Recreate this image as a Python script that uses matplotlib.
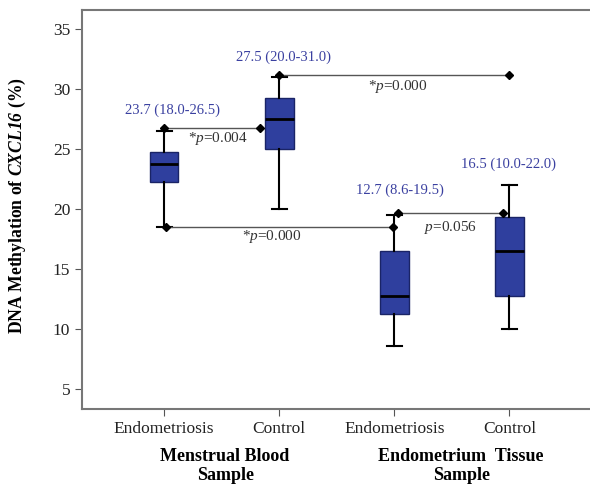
import matplotlib.pyplot as plt

plt.rcParams['font.family'] = ['Liberation Serif', 'DejaVu Serif']
plt.rcParams['mathtext.fontset'] = 'custom'
plt.rcParams['mathtext.rm'] = 'Liberation Serif'
plt.rcParams['mathtext.it'] = 'Liberation Serif:italic'
plt.rcParams['mathtext.bf'] = 'Liberation Serif:bold'
plt.rcParams['mathtext.bfit'] = 'Liberation Serif:italic:bold'

# box statistics
groups = ['Endometriosis', 'Control', 'Endometriosis', 'Control']
medians = [23.75, 27.5, 12.75, 16.5]
q1 = [22.25, 25.0, 11.25, 12.75]
q3 = [24.75, 29.25, 16.5, 19.3]
whislo = [18.5, 20.0, 8.6, 10.0]
whishi = [26.5, 31.0, 19.5, 22.0]
labels = ['23.7 (18.0-26.5)', '27.5 (20.0-31.0)', '12.7 (8.6-19.5)', '16.5 (10.0-22.0)']
label_x = [1.074, 2.035, 3.05, 3.99]
label_y = [28.25, 32.7, 21.6, 23.75]

# pairwise comparisons
comp_x0 = [1.0, 2.0, 1.02, 3.03]
comp_x1 = [1.835, 4.0, 2.99, 3.94]
comp_y = [26.78, 31.2, 18.5, 19.7]
comp_txt = [r'*$p$=0.004', r'*$p$=0.000', r'*$p$=0.000', r'$p$=0.056']
comp_tx = [1.47, 3.03, 1.94, 3.49]
comp_ty = [25.9, 30.25, 17.75, 18.5]

fig = plt.figure(figsize=(5.9, 4.9), dpi=100)
ax = fig.add_axes([0.139, 0.1653, 0.861, 0.8143])

stats = []
for i in range(4):
    stats.append(dict(med=medians[i], q1=q1[i], q3=q3[i],
                      whislo=whislo[i], whishi=whishi[i], fliers=[]))

blue = '#2f3f9e'
ax.bxp(stats, positions=[1, 2, 3, 4], widths=0.25, patch_artist=True,
       showfliers=False, capwidths=0.13,
       boxprops=dict(facecolor=blue, edgecolor='#1a2466', linewidth=1),
       medianprops=dict(color='black', linewidth=2),
       whiskerprops=dict(color='black', linewidth=1.5),
       capprops=dict(color='black', linewidth=1.5))

for i in range(4):
    ax.text(label_x[i], label_y[i], labels[i], color='#3a40a0',
            fontsize=10.5, ha='center', va='center')

for i in range(4):
    ax.plot([comp_x0[i], comp_x1[i]], [comp_y[i], comp_y[i]], color='#555555',
            linewidth=1, marker='D', markersize=4.5, markerfacecolor='black',
            markeredgecolor='black', zorder=3)
    ax.text(comp_tx[i], comp_ty[i], comp_txt[i], fontsize=11, color='#333333',
            ha='center', va='center')

ax.set_xlim(0.287, 4.70)
ax.set_ylim(3.33, 36.6)
ax.set_yticks([5, 10, 15, 20, 25, 30, 35])
ax.set_xticks([1, 2, 3, 4])
ax.set_xticklabels(groups)
ax.tick_params(axis='both', labelsize=12.5, color='#555555', length=5,
               labelcolor='#222222')

for s in ['left', 'bottom', 'top']:
    ax.spines[s].set_color('#777777')
    ax.spines[s].set_linewidth(1.5)
ax.spines['right'].set_visible(False)

ax.set_ylabel(r'DNA Methylation of $\mathbfit{CXCL16}$ (%)', fontsize=12.7,
              fontweight='bold')
ax.yaxis.set_label_coords(-0.106, 0.51)

ax.text(1.53, -0.097, 'Menstrual Blood\nSample', transform=ax.get_xaxis_transform(),
        fontsize=13, fontweight='bold', ha='center', va='top', linespacing=1.2)
ax.text(3.58, -0.097, 'Endometrium  Tissue\nSample', transform=ax.get_xaxis_transform(),
        fontsize=13, fontweight='bold', ha='center', va='top', linespacing=1.2)

plt.savefig('out.png', dpi=100)
